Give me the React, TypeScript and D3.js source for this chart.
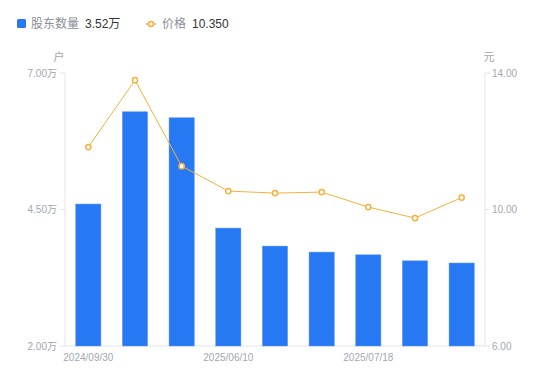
import React from "react";
import * as d3 from "d3";

const categories = ["2024/09/30", "2024/12/31", "2025/03/31", "2025/06/10", "2025/06/20", "2025/06/30", "2025/07/18", "2025/07/31", "2025/08/10"];
const holders = [4.60, 6.29, 6.18, 4.16, 3.83, 3.72, 3.67, 3.56, 3.52];
const prices = [11.83, 13.79, 11.27, 10.54, 10.48, 10.51, 10.07, 9.75, 10.35];
const leftTicks = [2, 4.5, 7];
const rightTicks = [6, 10, 14];
const xLabelIdx = [0, 3, 6];

export default function App() {
  const W = 550, H = 381;
  const left = 65, right = 485, top = 73, bottom = 346;
  const x = d3.scaleBand<string>().domain(categories).range([left, right]).paddingInner(0.46).paddingOuter(0.23);
  const band = (right - left) / categories.length;
  const cx = (i: number) => left + band * (i + 0.5);
  const yL = d3.scaleLinear().domain([2, 7]).range([bottom, top]);
  const yR = d3.scaleLinear().domain([6, 14]).range([bottom, top]);
  const bw = x.bandwidth();
  const line = d3.line<number>().x((_, i) => cx(i)).y((d) => yR(d));
  const font = "'Liberation Sans', 'Noto Sans CJK SC', sans-serif";
  const axisColor = "#e3e5ea";
  const tickText = "#a3a6b1";
  return (
    <svg width={W} height={H} style={{ position: "absolute", left: 0, top: 0 }} fontFamily={font}>
      {/* legend */}
      <rect x={17} y={19} width={9} height={9} rx={1.5} fill="#2678f3" />
      <text x={31} y={28} fontSize={12} fill="#8a8e99">股东数量</text>
      <text x={85} y={28} fontSize={12} fill="#333">3.52万</text>
      <line x1={146} x2={156} y1={24} y2={24} stroke="#f7b03c" strokeWidth={1.5} />
      <circle cx={151} cy={24} r={2.5} fill="#fff" stroke="#f7b03c" strokeWidth={1.5} />
      <text x={162} y={28} fontSize={12} fill="#8a8e99">价格</text>
      <text x={192} y={28} fontSize={12} fill="#333">10.350</text>

      {/* unit labels */}
      <text x={59} y={61} fontSize={11} fill={tickText} textAnchor="middle">户</text>
      <text x={489} y={61} fontSize={11} fill={tickText} textAnchor="middle">元</text>

      {/* axes */}
      <line x1={left} x2={left} y1={top} y2={bottom} stroke={axisColor} />
      <line x1={right} x2={right} y1={top} y2={bottom} stroke={axisColor} />
      <line x1={left} x2={right} y1={bottom} y2={bottom} stroke={axisColor} />
      {leftTicks.map((t) => (
        <g key={"l" + t}>
          <line x1={left - 5} x2={left} y1={yL(t)} y2={yL(t)} stroke={axisColor} />
          <text x={left - 8} y={yL(t) + 3.5} fontSize={10} fill={tickText} textAnchor="end">{t.toFixed(2) + "万"}</text>
        </g>
      ))}
      {rightTicks.map((t) => (
        <g key={"r" + t}>
          <line x1={right} x2={right + 5} y1={yR(t)} y2={yR(t)} stroke={axisColor} />
          <text x={right + 7} y={yR(t) + 3.5} fontSize={10} fill={tickText}>{t.toFixed(2)}</text>
        </g>
      ))}
      {xLabelIdx.map((i) => (
        <text key={"x" + i} x={cx(i)} y={361} fontSize={10} fill={tickText} textAnchor="middle">{categories[i]}</text>
      ))}

      {/* bars */}
      {holders.map((v, i) => (
        <rect key={"b" + i} x={cx(i) - bw / 2} y={yL(v)} width={bw} height={bottom - yL(v)} fill="#2678f3" stroke="#5d9af6" strokeWidth={0.5} />
      ))}

      {/* line */}
      <path d={line(prices) || ""} fill="none" stroke="#f7b03c" strokeWidth={1} />
      {prices.map((v, i) => (
        <circle key={"p" + i} cx={cx(i)} cy={yR(v)} r={2.6} fill="#fff" stroke="#f7b03c" strokeWidth={1.5} />
      ))}
    </svg>
  );
}
